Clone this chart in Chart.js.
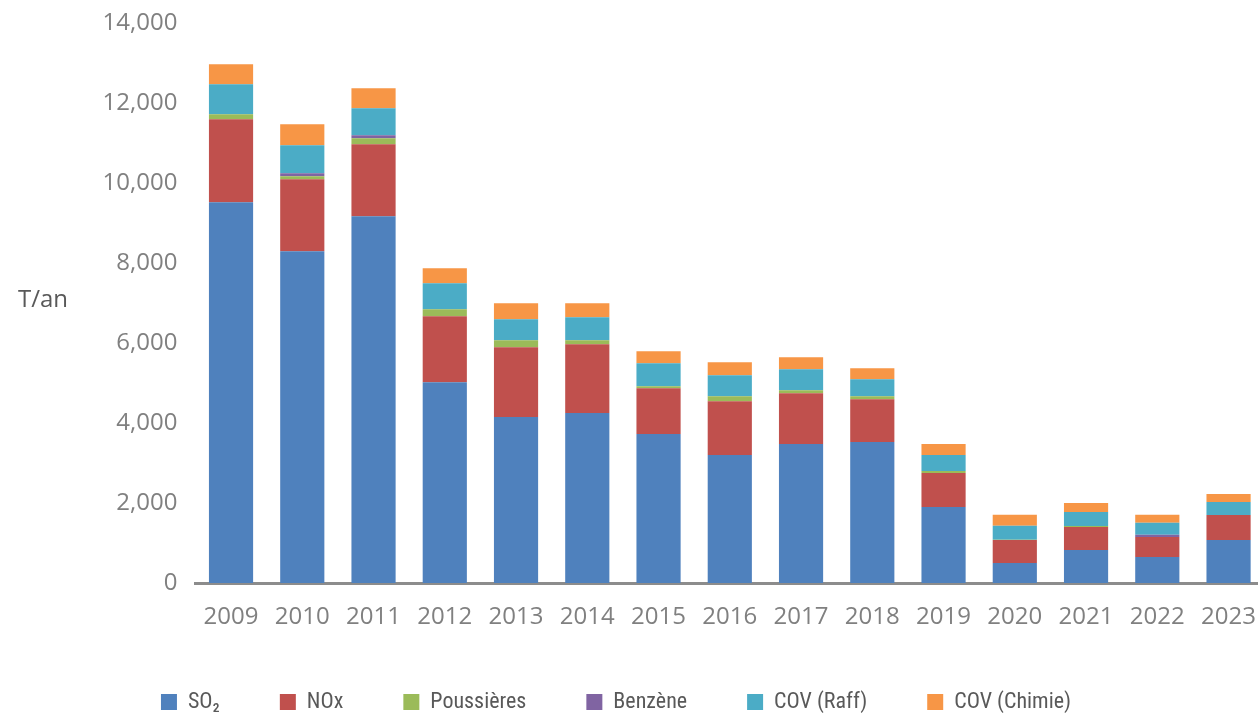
<!DOCTYPE html>
<html>
<head>
<meta charset="utf-8">
<script src="https://cdn.jsdelivr.net/npm/chart.js@4/dist/chart.umd.min.js"></script>
<style>
  html, body { margin: 0; padding: 0; background: #fff; overflow: hidden; }
  #wrap { width: 1320px; height: 732px; margin-left: -44px; margin-top: -9px; }
</style>
</head>
<body>
<div id="wrap"><canvas id="emissions" width="1320" height="732"></canvas></div>
<script>
// Emissions par année (T/an)
const years = ['2009', '2010', '2011', '2012', '2013', '2014', '2015', '2016', '2017', '2018', '2019', '2020', '2021', '2022', '2023'];
const so2 = [9525, 8300, 9175, 5025, 4150, 4250, 3725, 3200, 3475, 3525, 1900, 500, 825, 650, 1075];
const nox = [2075, 1800, 1800, 1650, 1750, 1725, 1150, 1350, 1275, 1075, 850, 575, 575, 500, 625];
const poussieres = [125, 75, 150, 175, 175, 100, 50, 125, 75, 75, 50, 10, 25, 0, 0];
const benzene = [0, 75, 75, 0, 0, 0, 0, 0, 0, 0, 0, 0, 0, 60, 0];
const covRaff = [750, 700, 675, 650, 525, 575, 575, 525, 525, 425, 400, 350, 350, 300, 325];
const covChimie = [500, 525, 500, 375, 400, 350, 300, 325, 300, 275, 275, 275, 225, 200, 200];
const yTicks = [0, 2000, 4000, 6000, 8000, 10000, 12000, 14000];

const tickFont = { family: "'Open Sans', sans-serif", size: 24 };
const legendFont = { family: "'Liberation Sans Narrow', 'Roboto Condensed', Roboto, sans-serif", size: 22 };

// "T/an" horizontal, left of the y axis
const yUnitLabel = {
    id: 'yUnitLabel',
    afterDraw(chart) {
        const ctx = chart.ctx;
        ctx.save();
        ctx.font = "24px 'Open Sans', sans-serif";
        ctx.fillStyle = '#595959';
        ctx.textAlign = 'left';
        ctx.textBaseline = 'middle';
        ctx.fillText('T/an', 62, 309);
        ctx.restore();
    }
};

function series(label, data, color) {
    return { label, data, backgroundColor: color, borderWidth: 0, barPercentage: 0.62, categoryPercentage: 1 };
}

new Chart(document.getElementById('emissions').getContext('2d'), {
    type: 'bar',
    data: {
        labels: years,
        datasets: [
            series('SO₂', so2, '#4F81BD'),
            series('NOx', nox, '#C0504D'),
            series('Poussières', poussieres, '#9BBB59'),
            series('Benzène', benzene, '#8064A2'),
            series('COV (Raff)', covRaff, '#4BACC6'),
            series('COV (Chimie)', covChimie, '#F79646')
        ]
    },
    options: {
        responsive: false,
        animation: false,
        devicePixelRatio: 1,
        layout: { padding: 0 },
        plugins: {
            legend: {
                position: 'bottom',
                labels: {
                    boxWidth: 16,
                    boxHeight: 16,
                    padding: 60,
                    color: '#595959',
                    font: legendFont
                }
            },
            tooltip: { enabled: false }
        },
        scales: {
            x: {
                stacked: true,
                grid: { display: false, drawTicks: false },
                border: { display: true, color: '#8c8c8c', width: 3 },
                ticks: { color: '#808080', font: tickFont, padding: 20, maxRotation: 0 },
                afterFit(scale) { scale.height = 48; }
            },
            y: {
                stacked: true,
                min: 0,
                max: 14000,
                grid: { display: false, drawTicks: false },
                border: { display: false },
                afterBuildTicks(scale) { scale.ticks = yTicks.map(v => ({ value: v })); },
                ticks: {
                    color: '#808080',
                    font: tickFont,
                    padding: 18,
                    callback: v => v.toLocaleString('en-US')
                },
                afterFit(scale) { scale.width = 239.4; }
            }
        }
    },
    plugins: [yUnitLabel]
});
</script>
</body>
</html>
